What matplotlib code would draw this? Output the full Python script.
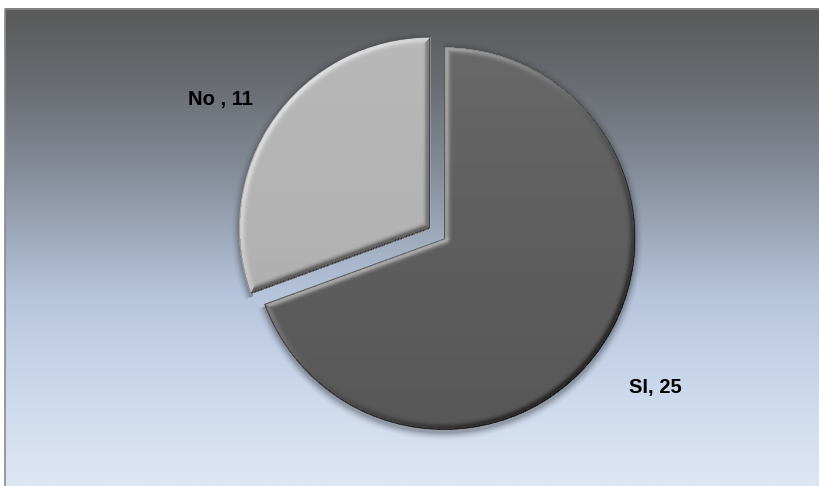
#!/usr/bin/env python3

"""
Pie chart SI / No with bevelled slices on a gradient panel
"""

import numpy as np
import matplotlib.pyplot as plt
from matplotlib.colors import LinearSegmentedColormap

# Data
categories = ["SI", "No "]
values = [25, 11]
colors = ["#5e5e5e", "#b3b3b3"]
explode = [0, 16.5]

W, H = 819, 486

fig = plt.figure(figsize=(W / 100, H / 100), dpi=100)
fig.patch.set_facecolor("white")
ax = fig.add_axes([0, 0, 1, 1])

# Panel background, dark grey at the top fading to pale blue
x0, ytop = 5, H - 9
bg = LinearSegmentedColormap.from_list(
    "bg", [(0.0, "#5a5a5a"), (0.15, "#686b70"), (0.35, "#868e9b"),
           (0.6, "#b6c4dc"), (0.8, "#ccd8ec"), (1.0, "#dde6f3")])
grad = np.linspace(0, 1, 256).reshape(-1, 1)
ax.imshow(grad, cmap=bg, extent=(x0, W, 0, ytop), origin="upper",
          aspect="auto", zorder=0)
ax.plot([x0, x0, W], [0, ytop, ytop], color="#8a8a8a", lw=1.2, zorder=1)

# Pie
center = (444, H - 238.5)
radius = 191.5
wedges, _ = ax.pie(values, colors=colors, explode=explode, startangle=90,
                   counterclock=False, center=center, radius=radius,
                   frame=True, wedgeprops=dict(linewidth=0))
for w in wedges:
    w.set_zorder(3)

ax.set_xlim(0, W)
ax.set_ylim(0, H)
ax.set_aspect("auto")
ax.axis("off")

# Pixel grid for shading overlays
X, Y = np.meshgrid(np.arange(W) + 0.5, np.arange(H) + 0.5)
light = np.array([-1.0, 1.0]) / np.sqrt(2)


def ray_dist(dx, dy, a):
    proj = dx * np.cos(a) + dy * np.sin(a)
    perp = np.abs(-dx * np.sin(a) + dy * np.cos(a))
    return np.where(proj > 0, perp, np.hypot(dx, dy))


for w in wedges:
    cx, cy = w.center
    R = w.r
    a1, a2 = np.radians(w.theta1), np.radians(w.theta2)
    dx, dy = X - cx, Y - cy
    r = np.hypot(dx, dy) + 1e-9
    theta = np.mod(np.arctan2(dy, dx) - a1, 2 * np.pi)
    inside = (r < R) & (theta <= (a2 - a1))

    d_arc = R - r
    d1 = ray_dist(dx, dy, a1)
    d2 = ray_dist(dx, dy, a2)
    d = np.minimum(d_arc, np.minimum(d1, d2))

    # outward normal of the nearest edge
    nx = np.where(d == d_arc, dx / r, np.where(d == d1, np.sin(a1), -np.sin(a2)))
    ny = np.where(d == d_arc, dy / r, np.where(d == d1, -np.cos(a1), np.cos(a2)))
    facing = nx * light[0] + ny * light[1]

    # bevel: bright ridge a few pixels in, fading towards the flat face
    bw = 9.0
    prof = np.clip(1 - d / bw, 0, 1)
    ridge = np.exp(-((d - 3.0) / 2.5) ** 2)
    delta = 0.55 * facing * (0.5 * prof + 0.6 * ridge)
    delta += 0.07 * (Y - cy) / R
    delta = np.where(d < 1.2, delta - 0.35, delta)
    delta = np.where(inside, delta, 0)

    over = np.zeros((H, W, 4))
    over[..., :3] = np.where(delta[..., None] > 0, 1.0, 0.0)
    over[..., 3] = np.clip(np.abs(delta), 0, 1)
    im = ax.imshow(over, extent=(0, W, 0, H), origin="lower",
                   aspect="auto", zorder=4, interpolation="bilinear")
    im.set_clip_path(w)

    # soft shadow under the rim
    sdx, sdy = X - cx, Y - (cy - 3)
    sr = np.hypot(sdx, sdy)
    st = np.mod(np.arctan2(sdy, sdx) - a1, 2 * np.pi)
    sa = np.where((sr > R - 3) & (st <= (a2 - a1)),
                  0.3 * np.clip(1 - (sr - R) / 9, 0, 1) ** 2, 0)
    sh = np.zeros((H, W, 4))
    sh[..., 3] = sa
    ax.imshow(sh, extent=(0, W, 0, H), origin="lower", aspect="auto",
              zorder=2, interpolation="bilinear")

# Data labels
label_pos = [(655, H - 388), (220, H - 100)]
for cat, val, (lx, ly) in zip(categories, values, label_pos):
    ax.text(lx, ly, f"{cat}, {val}", ha="center", va="center",
            fontsize=14.5, fontweight="bold", family="Liberation Sans",
            color="black", zorder=5)

fig.savefig("out.png", dpi=100)
